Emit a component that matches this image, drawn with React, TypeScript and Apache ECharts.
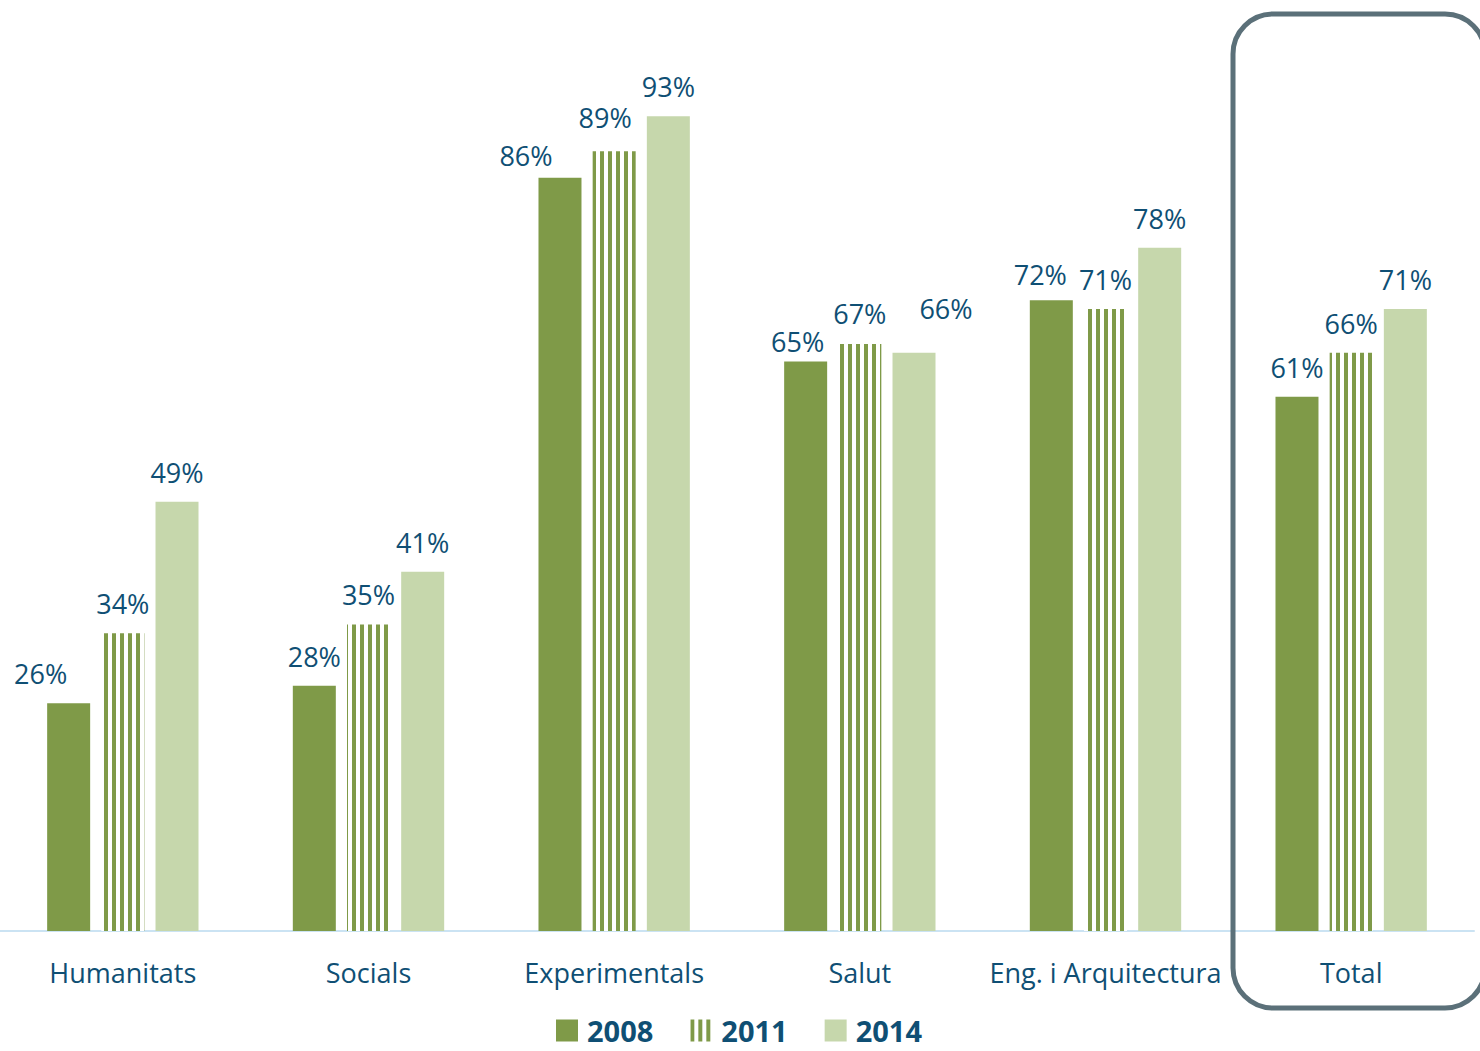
import React, { useEffect, useRef } from "react";
import * as echarts from "echarts";

const categories = ["Humanitats", "Socials", "Experimentals", "Salut", "Eng. i Arquitectura", "Total"];
const years = ["2008", "2011", "2014"];
const values2008 = [26, 28, 86, 65, 72, 61];
const values2011 = [34, 35, 89, 67, 71, 66];
const values2014 = [49, 41, 93, 66, 78, 71];

// manual label nudges (as in the original Excel chart)
const labelNudge2008 = [[-28, 0], [0, 0], [-34, 7], [-8, 9], [-11, 4], [0, 0]];
const labelNudge2011 = [[0, 0], [0, 0], [-9, -4], [0, -1], [0, 0], [0, 0]];
const labelNudge2014 = [[0, 0], [0, 0], [0, 0], [32, -15], [0, 0], [0, 0]];

const DARK = "#7F9A48";
const LIGHT = "#C6D7AC";
const TEXT = "#0F4F74";
const FONT = "'Open Sans', 'Noto Sans', sans-serif";

function makeStripe() {
  const c = document.createElement("canvas");
  c.width = 8;
  c.height = 8;
  const ctx = c.getContext("2d")!;
  ctx.fillStyle = "#ffffff";
  ctx.fillRect(0, 0, 8, 8);
  ctx.fillStyle = DARK;
  ctx.fillRect(0, 0, 4, 8);
  return c;
}

export default function App() {
  const ref = useRef<HTMLDivElement>(null);
  useEffect(() => {
    const chart = echarts.init(ref.current!, null, { renderer: "svg" });
    const stripe = { image: makeStripe(), repeat: "repeat", imageWidth: 8, imageHeight: 8 } as any;
    const mk = (vals: number[], nudges: number[][]) =>
      vals.map((v, i) => ({ value: v, label: { offset: nudges[i] } }));
    const label = {
      show: true,
      position: "top",
      distance: 16,
      formatter: "{c}%",
      color: TEXT,
      fontFamily: FONT,
      fontSize: 27,
    };
    chart.setOption({
      animation: false,
      grid: { left: -1, top: 55, width: 1475, bottom: 120, containLabel: false },
      legend: {
        data: years,
        left: 556,
        top: 1016,
        padding: 0,
        itemWidth: 22,
        itemHeight: 22,
        itemGap: 37,
        icon: "rect",
        textStyle: {
          color: TEXT,
          fontFamily: FONT,
          fontSize: 29,
          fontWeight: "bold",
          lineHeight: 29,
          padding: [0, 0, 0, 4],
        },
      },
      xAxis: {
        type: "category",
        data: categories,
        axisLine: { lineStyle: { color: "#CBE3F3", width: 2 } },
        axisTick: { show: false },
        axisLabel: { color: TEXT, fontFamily: FONT, fontSize: 27, margin: 28, interval: 0 },
      },
      yAxis: { type: "value", min: 0, max: 100, show: false, splitLine: { show: false } },
      series: [
        {
          name: "2008",
          type: "bar",
          barWidth: 43,
          barGap: "26%",
          itemStyle: { color: DARK },
          label,
          data: mk(values2008, labelNudge2008),
        },
        {
          name: "2011",
          type: "bar",
          barWidth: 43,
          barGap: "26%",
          itemStyle: { color: stripe },
          label,
          data: mk(values2011, labelNudge2011),
        },
        {
          name: "2014",
          type: "bar",
          barWidth: 43,
          barGap: "26%",
          itemStyle: { color: LIGHT },
          label,
          data: mk(values2014, labelNudge2014),
        },
      ],
      graphic: [
        {
          type: "rect",
          shape: { x: 1233, y: 14, width: 252, height: 994, r: 40 },
          style: { fill: "none", stroke: "#5B7079", lineWidth: 5 },
          z: 100,
        },
      ],
    });
    return () => chart.dispose();
  }, []);
  return (
    <div
      ref={ref}
      style={{ position: "absolute", left: 0, top: 0, width: 1480, height: 1051, background: "#fff" }}
    />
  );
}
